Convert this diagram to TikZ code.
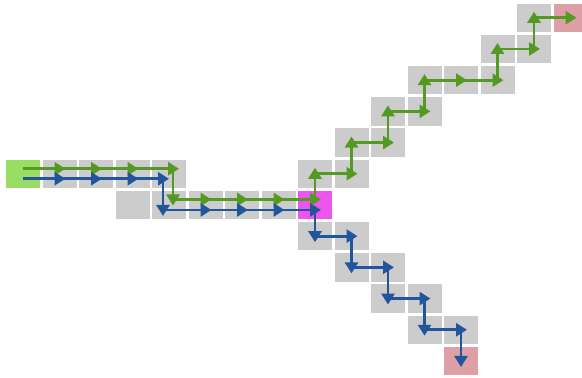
\documentclass[tikz,border=0pt]{standalone}
\usepackage{xcolor}
\usepackage{tikz}
\usetikzlibrary{arrows.meta,positioning,calc}
\definecolor{cellgray}{RGB}{204,204,204}
\definecolor{startgreen}{RGB}{153,221,100}
\definecolor{midmagenta}{RGB}{238,85,238}
\definecolor{goalred}{RGB}{221,160,166}
\definecolor{pathgreen}{RGB}{84,154,34}
\definecolor{pathblue}{RGB}{34,86,156}

\begin{document}
\begin{tikzpicture}[x=1pt, y=-1pt,
  cell/.style={minimum width=34pt, minimum height=28.5pt, inner sep=0pt, fill=cellgray},
  garrow/.style={pathgreen, line width=2.8pt, -{Triangle[length=11pt, width=13pt]}, shorten >=-6pt},
  barrow/.style={pathblue, line width=2.8pt, -{Triangle[length=11pt, width=13pt]}, shorten >=-6pt}]
\useasboundingbox (0,0) rectangle (582,378);
% grid cells
\foreach \c/\r in {1/5,2/5,3/5,4/5,8/5,9/5, 3/6,4/6,5/6,6/6,7/6,
                   9/4,10/4, 10/3,11/3, 11/2,12/2,13/2, 13/1,14/1, 14/0,
                   8/7,9/7, 9/8,10/8, 10/9,11/9, 11/10,12/10}
  \node[cell] (c\c-\r) at ({23+36.5*\c},{17.75+31.2*\r}) {};
\node[cell, fill=startgreen] (c0-5) at (23,{17.75+31.2*5}) {};
\node[cell, fill=midmagenta] (c8-6) at ({23+36.5*8},{17.75+31.2*6}) {};
\node[cell, fill=goalred] (c15-0) at ({23+36.5*15},17.75) {};
\node[cell, fill=goalred] (c12-11) at ({23+36.5*12},{17.75+31.2*11}) {};
% shared part, green above
\foreach \c in {0,...,3}
  \coordinate (g\c) at ([yshift=5pt]c\c-5.center);
\coordinate (g4) at ([xshift=4pt, yshift=5pt]c4-5.center);
\coordinate (g5) at ([xshift=4pt, yshift=5.5pt]c4-6.center);
\coordinate (g6) at ([yshift=5.5pt]c5-6.center);
\coordinate (g7) at ([yshift=5.5pt]c6-6.center);
\coordinate (g8) at ([yshift=5.5pt]c7-6.center);
\coordinate (g9) at ([yshift=5.5pt]c8-6.center);
\foreach \a/\b in {0/1,1/2,2/3,3/4,4/5,5/6,6/7,7/8,8/9}
  \draw[garrow] (g\a) -- (g\b);
% shared part, blue below
\foreach \c in {0,...,3}
  \coordinate (b\c) at ([yshift=-5pt]c\c-5.center);
\coordinate (b4) at ([xshift=-6pt, yshift=-5pt]c4-5.center);
\coordinate (b5) at ([xshift=-6pt, yshift=-5pt]c4-6.center);
\coordinate (b6) at ([yshift=-5pt]c5-6.center);
\coordinate (b7) at ([yshift=-5pt]c6-6.center);
\coordinate (b8) at ([yshift=-5pt]c7-6.center);
\coordinate (b9) at ([yshift=-5pt]c8-6.center);
\foreach \a/\b in {0/1,1/2,2/3,3/4,4/5,5/6,6/7,7/8,8/9}
  \draw[barrow] (b\a) -- (b\b);
% upper branch
\draw[garrow] (g9) -- (c8-5.center);
\foreach \a/\b in {c8-5/c9-5, c9-5/c9-4, c9-4/c10-4, c10-4/c10-3, c10-3/c11-3,
                   c11-3/c11-2, c11-2/c12-2, c12-2/c13-2, c13-2/c13-1,
                   c13-1/c14-1, c14-1/c14-0, c14-0/c15-0}
  \draw[garrow] (\a.center) -- (\b.center);
% lower branch
\draw[barrow] (b9) -- (c8-7.center);
\foreach \a/\b in {c8-7/c9-7, c9-7/c9-8, c9-8/c10-8, c10-8/c10-9, c10-9/c11-9,
                   c11-9/c11-10, c11-10/c12-10, c12-10/c12-11}
  \draw[barrow] (\a.center) -- (\b.center);
\end{tikzpicture}
\end{document}
